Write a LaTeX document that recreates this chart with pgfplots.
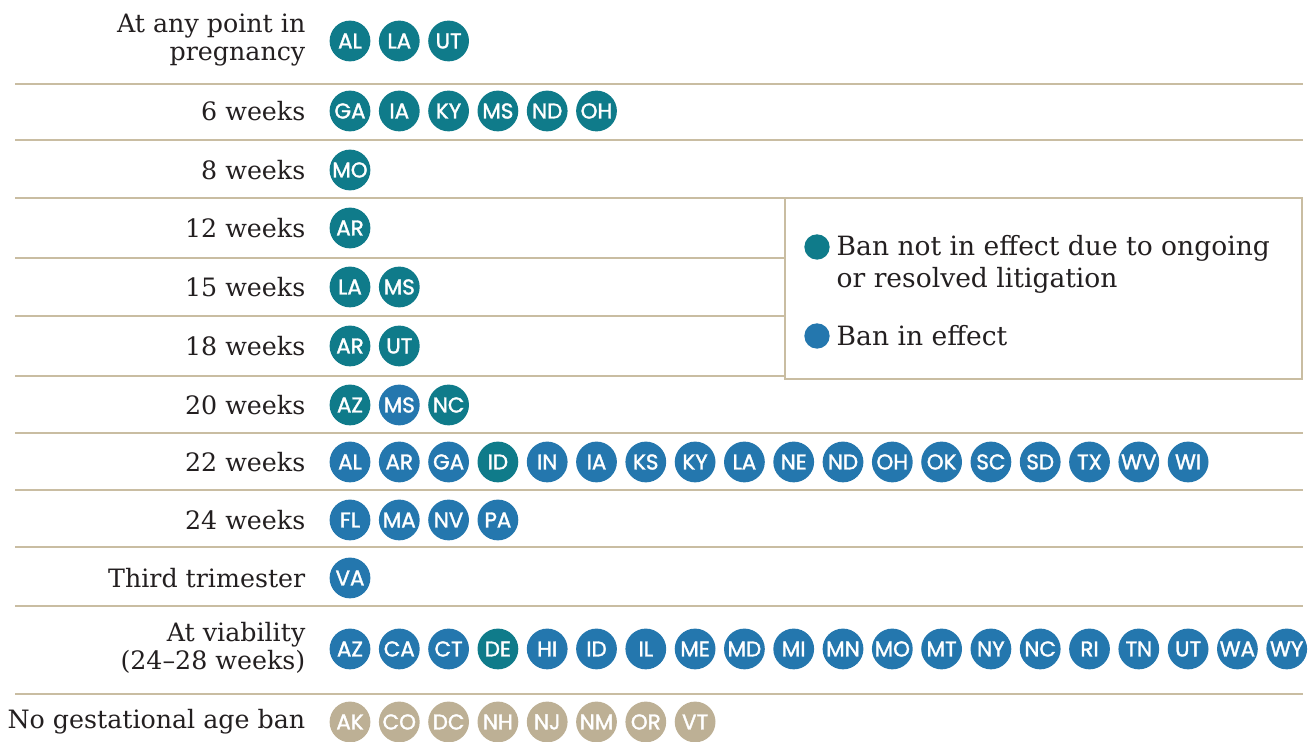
\documentclass[border=0pt]{standalone}
\usepackage{pgfplots}
\pgfplotsset{compat=1.18}
\usepackage{pgfplotstable}
\usepackage{fontspec}
\setmainfont{DejaVu Serif}
\newfontfamily\statefont[FakeBold=1.6]{Poppins}
\definecolor{teal2}{HTML}{0F7B8A}
\definecolor{blue2}{HTML}{2477AE}
\definecolor{beige2}{HTML}{BDB095}
\definecolor{rule2}{HTML}{C9BDA2}
\definecolor{ink}{HTML}{231F20}

% col = position in row, y = row centre (px from top), state
\pgfplotstableread{
col y state
0 41 AL
1 41 LA
2 41 UT
0 111 GA
1 111 IA
2 111 KY
3 111 MS
4 111 ND
5 111 OH
0 170 MO
0 228 AR
0 287 LA
1 287 MS
0 346 AR
1 346 UT
0 405 AZ
2 405 NC
3 462 ID
3 649 DE
}\tealdata

\pgfplotstableread{
col y state
1 405 MS
0 462 AL
1 462 AR
2 462 GA
4 462 IN
5 462 IA
6 462 KS
7 462 KY
8 462 LA
9 462 NE
10 462 ND
11 462 OH
12 462 OK
13 462 SC
14 462 SD
15 462 TX
16 462 WV
17 462 WI
0 520 FL
1 520 MA
2 520 NV
3 520 PA
0 578 VA
0 649 AZ
1 649 CA
2 649 CT
4 649 HI
5 649 ID
6 649 IL
7 649 ME
8 649 MD
9 649 MI
10 649 MN
11 649 MO
12 649 MT
13 649 NY
14 649 NC
15 649 RI
16 649 TN
17 649 UT
18 649 WA
19 649 WY
}\bluedata

\pgfplotstableread{
col y state
0 722 AK
1 722 CO
2 722 DC
3 722 NH
4 722 NJ
5 722 NM
6 722 OR
7 722 VT
}\beigedata

\begin{document}
\begin{tikzpicture}
\begin{axis}[
  scale only axis, width=13.14cm, height=7.4cm,
  xmin=0, xmax=1314, ymin=0, ymax=740, y dir=reverse,
  hide axis, clip=false,
  states/.style={only marks, mark=*, mark size=5.6pt,
    mark options={draw=none},
    nodes near coords, point meta=explicit symbolic,
    every node near coord/.append style={anchor=center, inner sep=0pt,
      text=white, font=\statefont\fontsize{6.1}{6.5}\selectfont}},
]
\path (rel axis cs:0,0) rectangle (rel axis cs:1,1);
\pgfplotsinvokeforeach{84,140,198,258,316,376,433,490,547,606,694}{
  \draw[rule2, line width=0.55pt] (axis cs:15,#1) -- (axis cs:1303,#1);
}
\addplot[states, teal2] table[x expr=350+49.3*\thisrow{col}, y=y, meta=state] {\tealdata};
\addplot[states, blue2] table[x expr=350+49.3*\thisrow{col}, y=y, meta=state] {\bluedata};
\addplot[states, beige2] table[x expr=350+49.3*\thisrow{col}, y=y, meta=state] {\beigedata};

% legend box
\draw[rule2, line width=0.55pt, fill=white] (axis cs:785,198) rectangle (axis cs:1302,379);
\addplot[only marks, mark=*, mark size=3.4pt, mark options={draw=none}, teal2] coordinates {(817,247)};
\addplot[only marks, mark=*, mark size=3.4pt, mark options={draw=none}, blue2] coordinates {(817,336)};

\begin{scope}[every node/.style={text=ink, inner sep=0pt, font=\fontsize{7.55}{9.1}\selectfont}]
\node[anchor=west, align=left] at (axis cs:836,264) {Ban not in effect due to ongoing\\or resolved litigation};
\node[anchor=west] at (axis cs:836,336) {Ban in effect};
\end{scope}

\begin{scope}[every node/.style={anchor=east, align=right, text=ink, inner sep=0pt,
   font=\fontsize{7.2}{8.0}\selectfont}]
\node at (axis cs:306,40) {At any point in\\pregnancy};
\node at (axis cs:306,111) {6 weeks};
\node at (axis cs:306,170) {8 weeks};
\node at (axis cs:306,228) {12 weeks};
\node at (axis cs:306,287) {15 weeks};
\node at (axis cs:306,346) {18 weeks};
\node at (axis cs:306,405) {20 weeks};
\node at (axis cs:306,462) {22 weeks};
\node at (axis cs:306,520) {24 weeks};
\node at (axis cs:306,578) {Third trimester};
\node at (axis cs:306,648) {At viability\\(24--28 weeks)};
\node at (axis cs:306,722) {No gestational age ban};
\end{scope}
\end{axis}
\end{tikzpicture}
\end{document}
